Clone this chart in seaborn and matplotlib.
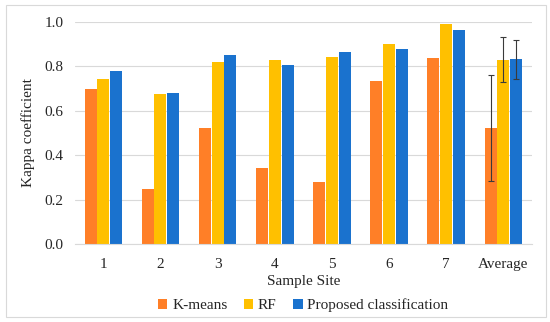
import numpy as np
import pandas as pd
import seaborn as sns
import matplotlib.pyplot as plt
from matplotlib.patches import Rectangle

sites = ["1", "2", "3", "4", "5", "6", "7", "Average"]
kmeans = [0.696, 0.247, 0.524, 0.341, 0.281, 0.732, 0.837, 0.523]
rf = [0.741, 0.676, 0.819, 0.828, 0.841, 0.898, 0.990, 0.828]
proposed = [0.778, 0.679, 0.849, 0.804, 0.862, 0.876, 0.961, 0.830]
# standard deviation shown only on the Average group
avg_err = [0.237, 0.101, 0.089]
methods = ["K-means", "RF", "Proposed classification"]
colors = ["#FF7F27", "#FFC000", "#1A72CE"]

df = pd.DataFrame({
    "site": sites * 3,
    "kappa": kmeans + rf + proposed,
    "method": np.repeat(methods, len(sites)),
})

sns.set_style("white")
plt.rcParams["font.family"] = ["Liberation Serif", "DejaVu Serif"]

fig = plt.figure(figsize=(5.5, 3.22), dpi=100)
ax = fig.add_axes([0.136, 0.241, 0.831, 0.692])

sns.barplot(data=df, x="site", y="kappa", hue="method", palette=colors,
            width=0.67, gap=0.06, errorbar=None, ax=ax, saturation=1,
            linewidth=0)

# error bars on the Average bars, positioned from the drawn patches
bar_groups = list(ax.containers)
for i, cont in enumerate(bar_groups):
    bar = cont.patches[-1]
    cx = bar.get_x() + bar.get_width() / 2
    ax.errorbar(cx, bar.get_height(), yerr=avg_err[i], fmt="none",
                ecolor="#3a3a3a", elinewidth=0.8, capsize=2.5, capthick=0.8)

fs = 11
ax.set_ylim(0, 1.0)
ax.set_xlim(-0.5, len(sites) - 0.5)
ax.set_yticks(np.arange(0, 1.01, 0.2))
ax.set_yticklabels([f"{v:.1f}" for v in np.arange(0, 1.01, 0.2)])
ax.yaxis.grid(True, color="#d9d9d9", linewidth=0.8)
ax.set_axisbelow(True)
for s in ["left", "right", "top"]:
    ax.spines[s].set_visible(False)
ax.spines["bottom"].set_color("#d9d9d9")
ax.tick_params(axis="both", length=0, labelsize=fs)
ax.tick_params(axis="x", pad=10)
ax.tick_params(axis="y", pad=8)
ax.set_xlabel("Sample Site", fontsize=fs, labelpad=3)
ax.set_ylabel("Kappa coefficient", fontsize=fs, labelpad=7)

ax.legend(loc="upper center", bbox_to_anchor=(0.5, -0.18), ncol=3,
          frameon=False, fontsize=fs, handlelength=0.6, handleheight=0.6,
          handletextpad=0.3, columnspacing=1.1)

fig.add_artist(Rectangle((0.011, 0.016), 0.981, 0.968, transform=fig.transFigure,
                         fill=False, edgecolor="#d9d9d9", linewidth=0.8))

fig.savefig("out.png", dpi=100)
